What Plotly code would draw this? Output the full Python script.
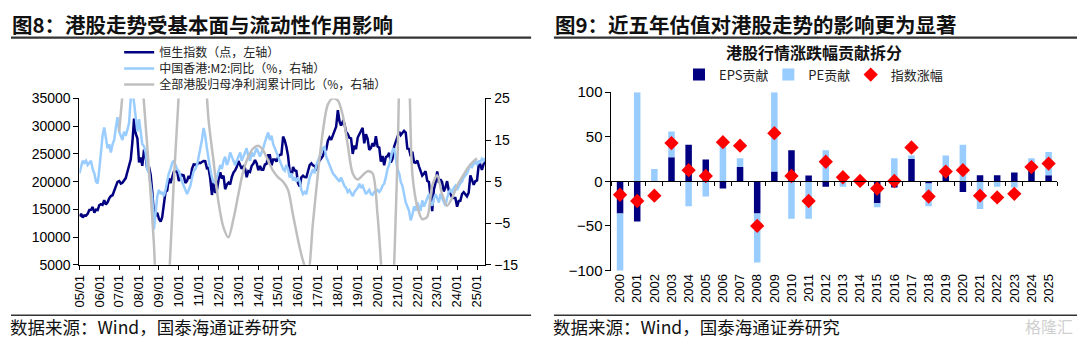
import plotly.graph_objects as go
import pandas as pd

# ---------------- data: Figure 8 ----------------
month_start = "2005-01-01"
n_months = 246
hsi = [13721, 14195, 13516, 13908, 13867, 14201, 14880, 14903, 15428, 14386, 14937, 14876,
       15753, 15918, 15805, 16661, 15857, 16267, 16971, 17392, 17543, 18324, 18960, 19965,
       20107, 19652, 19801, 20319, 20635, 21773, 23185, 23984, 27142, 31352, 28643, 27813,
       23456, 24332, 22849, 25755, 24533, 22102, 22731, 21262, 18016, 13969, 13888, 14387,
       13278, 12812, 13576, 15521, 18171, 18379, 20573, 19724, 20955, 21753, 21822, 21873,
       20122, 20609, 21239, 21108, 19765, 20129, 21030, 20536, 22359, 23096, 23008, 23035,
       23447, 23338, 23528, 23721, 23684, 22398, 22440, 20535, 17592, 19864, 17989, 18434,
       20390, 21680, 20556, 21094, 18630, 19441, 19796, 19483, 20840, 21642, 22030, 22657,
       23730, 23020, 22300, 22737, 22392, 20803, 21883, 21731, 22860, 23206, 23881, 23306,
       22035, 22837, 22151, 22134, 23082, 23191, 24757, 24742, 22933, 23998, 23987, 23605,
       24507, 24823, 24901, 28133, 27424, 26250, 24636, 21671, 20846, 22640, 21996, 21914,
       19683, 19112, 20777, 21067, 20815, 20794, 21891, 22977, 23297, 22935, 22790, 22001,
       23361, 23741, 24112, 24615, 25661, 25765, 27323, 27970, 27554, 28246, 29177, 29919,
       32887, 30845, 30093, 30808, 30469, 28955, 28583, 27889, 27789, 24980, 26507, 25846,
       27942, 28633, 29051, 29699, 26901, 28543, 27778, 25725, 26092, 26907, 26346, 28190,
       26313, 26130, 23603, 24644, 22961, 24427, 24595, 25177, 23459, 24107, 26341, 27231,
       28284, 28980, 28378, 28725, 29152, 28828, 25961, 25879, 24576, 25377, 23475, 23398,
       23802, 22713, 21997, 21089, 21415, 21860, 20157, 19954, 17223, 14687, 18597, 19781,
       21842, 19786, 20400, 19895, 18234, 18916, 20079, 18382, 17810, 17112, 17043, 17047,
       15485, 16511, 16541, 17763, 18080, 17719, 17345, 17989, 21134, 20317, 19424, 20060,
       20225, 22941, 23120, 22119, 23290, 24072]
m2_yoy = [7, 9, 10, 9.5, 10, 9, 9.5, 10, 8, 7, 5, 4.6,
          8, 13, 16, 18, 16, 13, 14, 12, 14, 15, 18, 20.5,
          17, 16, 15, 17, 16, 17.5, 19, 25, 27, 24, 20, 17,
          20, 16, 14, 13.5, 12, 8, 7, 4, 1, -6.5, -2, 1.5,
          3, 2, 2.5, 1.5, 3, 5, 7, 8, 9.5, 10, 9, 8,
          7.5, 6, 5, 4, 3, 2, 3, 4, 6, 7.5, 8, 9,
          11, 13, 15, 17.9, 16, 13, 10, 8, 6, 5, 4.6, 6,
          7.6, 9, 8, 10, 11, 9, 10, 12, 11, 10, 9, 10,
          11, 12, 10, 11, 12, 13, 11, 10, 12, 11, 12, 13,
          12, 11, 12, 13, 14.5, 15.5, 16.8, 15, 16, 14, 13, 12,
          11, 10, 9, 8, 7.6, 9, 8, 6, 7, 5.3, 6, 5,
          6, 5, 3, 2, 2.5, 2, 4, 6, 7, 8, 7, 9,
          10, 11, 12, 13, 13.3, 11, 10, 9, 8, 7, 6.5, 6,
          5.5, 5, 6, 5, 4, 3.5, 2.5, 3, 2, 1.5, 2.5, 3,
          3.5, 4.5, 3.5, 4, 3, 2, 2.5, 3, 2, 1.8, 2.5, 2.8,
          3, 2.5, 3, 4, 4.5, 6, 8, 9, 11, 12.5, 13, 10,
          8, 7, 5, 4, 2, 0, -1, -2, -4.3, -3, -1, -2,
          0, -1, -2, 0.5, -1, 0, 1, 2, 0, -0.8, 1, 2,
          1, 0, 2, 1, 0, -0.8, 1, 2.5, 3, 2.3, 3.5, 4,
          3, 4, 4.6, 5, 6, 6.5, 7, 8, 9, 8.5, 9.5, 10,
          9, 10, 9.5, 10.5, 10, 10.6]
profit_dates = ["2006-12-31", "2007-03-31", "2007-06-30", "2007-09-30", "2007-12-31",
                "2008-03-31", "2008-06-30", "2008-09-30", "2008-12-31",
                "2009-03-31", "2009-06-30", "2009-09-30", "2009-12-31",
                "2010-03-31", "2010-06-30", "2010-09-30", "2010-12-31",
                "2011-03-31", "2011-06-30", "2011-09-30", "2011-12-31",
                "2012-03-31", "2012-06-30", "2012-09-30", "2012-12-31",
                "2013-03-31", "2013-06-30", "2013-09-30", "2013-12-31",
                "2014-03-31", "2014-06-30", "2014-09-30", "2014-12-31",
                "2015-03-31", "2015-06-30", "2015-09-30", "2015-12-31",
                "2016-03-31", "2016-06-30", "2016-09-30", "2016-12-31",
                "2017-03-31", "2017-06-30", "2017-09-30", "2017-12-31",
                "2018-03-31", "2018-06-30", "2018-09-30", "2018-12-31",
                "2019-03-31", "2019-06-30", "2019-09-30", "2019-12-31",
                "2020-03-31", "2020-06-30", "2020-09-30", "2020-12-31",
                "2021-03-31", "2021-06-30", "2021-09-30", "2021-12-31",
                "2022-03-31", "2022-06-30", "2022-09-30", "2022-12-31",
                "2023-03-31", "2023-06-30", "2023-09-30", "2023-12-31",
                "2024-03-31", "2024-06-30", "2024-09-30", "2024-12-31"]
profit_yoy = [17, 30, 45, 48, 40,
              24, 8, -10, -35,
              -40, -20, 5, 26,
              50, 70, 75, 60,
              40, 20, 10, 0,
              -6, -8.4, -4, 2,
              7.6, 11, 13, 13.6,
              12.5, 10, 7.6, 6,
              5, 3, -3, -9,
              -14, -17, -5, 7,
              17, 23.5, 25, 24.5,
              21, 14, 7, 5.5,
              6.5, 7.5, 7, -3,
              -20, -40, -25, 10,
              45, 40, 7, -1,
              -4, -3.5, 4, 6.5,
              2, -0.8, 1, 4,
              6, 8, 9.5, 10.6]

# ---------------- data: Figure 9 ----------------
years = [str(y) for y in range(2000, 2026)]
eps_contrib = [-36, -45, 0, 27, 41, 24.5, -8, 16, -36, 11, 35, 6.5, -6,
               3.5, 0.5, -24.5, -7, 25, -2.5, 8, -12, 7, 7, 10, 14.5, 7]
pe_contrib = [-65, 100, 14, 29, -28, -17, 44, 10, -55, 89, -42, -42, 35,
              -6, 0, -4.5, 26, 4, -25.5, 21, 41, -31, -6, -7, 11.5, 26]
index_chg = [-15, -22, -16, 43, 12.5, 6, 44, 40, -50, 54, 6, -22, 22,
             4.6, 0.5, -8, 0.4, 38, -17, 11, 12.5, -16, -18, -14, 16, 20]

# ---------------- styling ----------------
W, H = 1080, 347
NAVY = "#000080"
LIGHT = "#99CCFF"
GRAY = "#BFBFBF"
CJK = "Noto Sans CJK SC"
LAT = "Liberation Sans, Arial"


def px_x(p):
    return p / W


def px_y(p):
    return 1 - p / H


months = pd.date_range(month_start, periods=n_months, freq="MS")

fig = go.Figure()

fig.add_trace(go.Scatter(x=months, y=m2_yoy, mode="lines", name="中国香港:M2:同比（%，右轴）",
                         line=dict(color=LIGHT, width=2.5), xaxis="x", yaxis="y2",
                         legend="legend2"))
fig.add_trace(go.Scatter(x=pd.to_datetime(profit_dates), y=profit_yoy, mode="lines",
                         name="全部港股归母净利润累计同比（%，右轴）",
                         line=dict(color=GRAY, width=2.5, shape="spline", smoothing=0.8),
                         xaxis="x", yaxis="y2", legend="legend3"))
fig.add_trace(go.Scatter(x=months, y=hsi, mode="lines", name="恒生指数（点，左轴）",
                         line=dict(color=NAVY, width=2.5), xaxis="x", yaxis="y",
                         legend="legend"))

fig.add_trace(go.Bar(x=years, y=eps_contrib, name="EPS贡献", marker=dict(color=NAVY, line=dict(width=0)),
                     xaxis="x2", yaxis="y3", legend="legend4"))
fig.add_trace(go.Bar(x=years, y=pe_contrib, name="PE贡献", marker=dict(color=LIGHT, line=dict(width=0)),
                     xaxis="x2", yaxis="y3", legend="legend5"))
fig.add_trace(go.Scatter(x=years, y=index_chg, mode="markers", name="指数涨幅",
                         marker=dict(symbol="diamond", color="#FF0000", size=11),
                         xaxis="x2", yaxis="y3", legend="legend6"))
# axis carrying the zero line with boundary ticks
fig.add_trace(go.Scatter(x=years, y=[None] * len(years), mode="lines", showlegend=False,
                         hoverinfo="skip", xaxis="x3", yaxis="y3"))

tickfont = dict(family=LAT, size=13, color="#000")

left_dom = [px_x(72), px_x(481)]
left_ydom = [px_y(269), px_y(94)]
right_dom = [px_x(608), px_x(1057)]
right_ydom = [px_y(275), px_y(87.5)]


def leg(xp, yp, size=12):
    return dict(x=px_x(xp), y=px_y(yp), xanchor="left", yanchor="middle",
                font=dict(family=CJK, size=size, color="#222"),
                bgcolor="rgba(0,0,0,0)", itemwidth=30, borderwidth=0)


fig.update_layout(
    width=W, height=H,
    margin=dict(l=0, r=0, t=0, b=0),
    paper_bgcolor="white", plot_bgcolor="white",
    barmode="relative", bargap=0.62,
    xaxis=dict(domain=left_dom, anchor="y", type="date",
               range=["2005-01-01", "2025-06-05"],
               tick0="2005-01-01", dtick="M12", tickformat="%y/%m",
               tickangle=-90, ticks="outside", ticklen=4, tickcolor="#000",
               showline=True, linecolor="#000", linewidth=1,
               showgrid=False, zeroline=False, tickfont=tickfont),
    yaxis=dict(domain=left_ydom, anchor="x", range=[5000, 35000], dtick=5000,
               tickformat="d",
               ticks="outside", ticklen=5, tickcolor="#000",
               showline=True, linecolor="#000", linewidth=1,
               showgrid=False, zeroline=False, tickfont=dict(family=LAT, size=14, color="#000")),
    yaxis2=dict(domain=left_ydom, anchor="x", overlaying="y", side="right",
                range=[-15, 25], tickvals=[-15, -5, 5, 15, 25],
                ticks="outside", ticklen=5, tickcolor="#000",
                showline=True, linecolor="#000", linewidth=1,
                showgrid=False, zeroline=False, tickfont=dict(family=LAT, size=14, color="#000")),
    xaxis2=dict(domain=right_dom, anchor="y3", type="category",
                categoryorder="array", categoryarray=years, range=[-0.5, 25.5],
                tickangle=-90, ticks="", showline=False, showgrid=False,
                zeroline=False, tickfont=tickfont),
    xaxis3=dict(domain=right_dom, overlaying="x2", anchor="free",
                position=px_y(181), type="category",
                categoryorder="array", categoryarray=years, range=[-0.5, 25.5],
                tickson="boundaries", ticks="outside", ticklen=4, tickcolor="#000",
                showticklabels=False, showline=True, linecolor="#000", linewidth=1.3,
                showgrid=False, zeroline=False),
    yaxis3=dict(domain=right_ydom, anchor="x2", range=[-100, 100], dtick=50,
                ticks="outside", ticklen=5, tickcolor="#000",
                showline=True, linecolor="#000", linewidth=1,
                showgrid=False, zeroline=False, tickfont=dict(family=LAT, size=15, color="#000")),
    legend=leg(112, 45.5),
    legend2=leg(112, 62.5),
    legend3=leg(112, 79.5),
    legend4=leg(676, 69, 13),
    legend5=leg(766, 69, 13),
    legend6=leg(849, 69, 13),
    showlegend=True,
)

# headers, rules, source notes
ann = []
ann.append(dict(text="<b>图8：港股走势受基本面与流动性作用影响</b>", x=px_x(2), y=px_y(16),
                xref="paper", yref="paper", xanchor="left", yanchor="middle",
                showarrow=False, font=dict(family=CJK, size=20.5, color="#111")))
ann.append(dict(text="<b>图9：近五年估值对港股走势的影响更为显著</b>", x=px_x(549), y=px_y(16),
                xref="paper", yref="paper", xanchor="left", yanchor="middle",
                showarrow=False, font=dict(family=CJK, size=20.5, color="#111")))
ann.append(dict(text="<b>港股行情涨跌幅贡献拆分</b>", x=px_x(812), y=px_y(45),
                xref="paper", yref="paper", xanchor="center", yanchor="middle",
                showarrow=False, font=dict(family=CJK, size=16, color="#111")))
for x0 in (0, 547):
    ann.append(dict(text="数据来源：Wind，国泰海通证券研究", x=px_x(x0), y=px_y(334),
                    xref="paper", yref="paper", xanchor="left", yanchor="middle",
                    showarrow=False, font=dict(family=CJK, size=17.5, color="#111")))
ann.append(dict(text="格隆汇", x=px_x(1075), y=px_y(333), xref="paper", yref="paper",
                xanchor="right", yanchor="middle", showarrow=False,
                font=dict(family=CJK, size=16, color="#D0D0D0")))
fig.update_layout(annotations=ann)

shapes = []
for a, b in ((3, 527), (550, 1077)):
    shapes.append(dict(type="line", xref="paper", yref="paper", x0=px_x(a), x1=px_x(b),
                       y0=px_y(30), y1=px_y(30), line=dict(color="#333", width=2.2)))
    shapes.append(dict(type="line", xref="paper", yref="paper", x0=px_x(a), x1=px_x(b),
                       y0=px_y(322), y1=px_y(322), line=dict(color="#333", width=1.5)))
fig.update_layout(shapes=shapes)

fig.write_html("out.html")
